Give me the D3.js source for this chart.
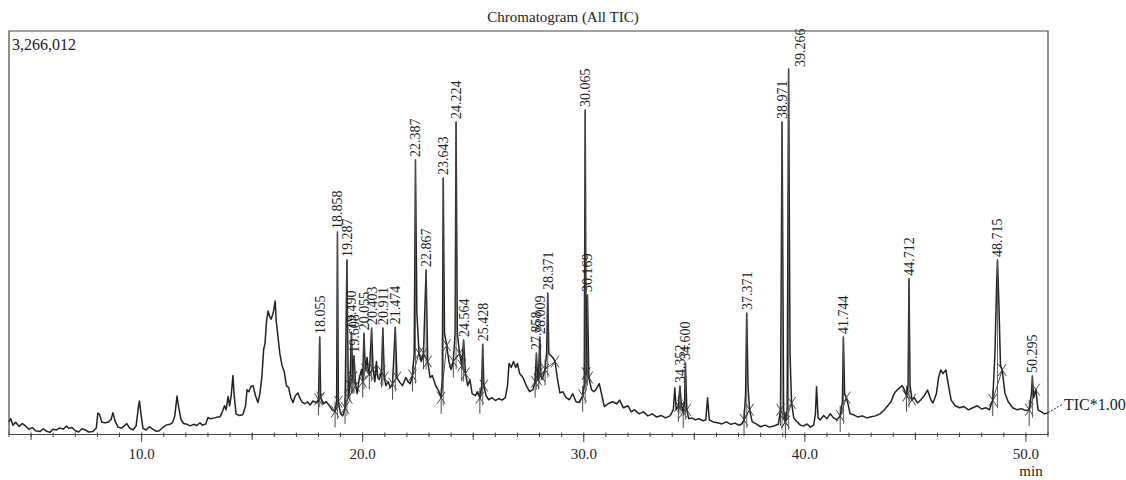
<!DOCTYPE html>
<html><head><meta charset="utf-8">
<script src="https://cdn.jsdelivr.net/npm/d3@7"></script>
<style>
html,body{margin:0;padding:0;background:#fff;}
svg text{font-family:"Liberation Serif","Times New Roman",serif;fill:#222;}
</style></head><body>
<svg id="chart" width="1126" height="480"></svg>
<script>
// ---- DATA (retention time in min, intensity in % of full scale 3,266,012) ----
const ticTrace = [
[4.00,3.0],[4.08,3.8],[4.18,2.2],[4.30,2.9],[4.45,1.9],[4.60,2.6],[4.75,2.0],[4.90,1.2],[5.05,1.6],[5.20,0.8],
[5.40,0.6],[5.55,1.3],[5.70,0.7],[5.85,0.4],[6.00,1.2],[6.15,1.0],[6.30,1.5],[6.45,1.2],[6.60,2.0],[6.70,1.4],
[6.85,1.6],[7.00,0.8],[7.15,0.5],[7.30,1.3],[7.45,1.0],[7.60,0.5],[7.80,0.6],[7.95,1.5],[8.02,5.2],[8.10,4.8],
[8.20,2.9],[8.35,2.8],[8.50,3.0],[8.62,3.6],[8.70,5.3],[8.80,3.2],[8.93,1.7],[9.10,1.5],[9.25,2.2],[9.33,2.6],
[9.45,1.5],[9.60,1.0],[9.75,2.0],[9.85,6.5],[9.90,8.2],[9.97,5.0],[10.06,1.4],[10.20,1.0],[10.35,1.8],[10.50,1.2],
[10.65,0.7],[10.80,0.8],[10.95,1.6],[11.10,2.2],[11.28,2.4],[11.40,2.8],[11.50,4.5],[11.60,9.4],[11.68,6.5],[11.78,3.6],
[11.90,2.6],[12.05,2.4],[12.20,2.0],[12.35,2.4],[12.50,2.1],[12.64,2.8],[12.75,2.2],[12.90,2.5],[13.00,4.1],[13.10,3.8],
[13.30,4.0],[13.45,4.2],[13.55,4.3],[13.65,5.5],[13.75,7.0],[13.82,6.0],[13.91,9.3],[13.98,7.0],[14.05,9.5],[14.13,14.5],
[14.18,10.0],[14.27,5.0],[14.40,4.6],[14.58,4.8],[14.70,7.0],[14.77,11.0],[14.85,10.5],[14.95,11.8],[15.04,12.0],[15.15,9.5],
[15.26,7.8],[15.35,10.0],[15.44,14.3],[15.52,21.0],[15.58,22.5],[15.65,28.0],[15.72,30.5],[15.80,29.0],[15.86,28.5],[15.95,30.0],
[16.04,33.0],[16.09,28.0],[16.17,24.0],[16.25,20.0],[16.35,17.0],[16.45,15.5],[16.55,12.0],[16.65,11.5],[16.75,9.0],[16.85,7.8],
[16.95,9.5],[17.07,10.2],[17.15,9.0],[17.25,8.0],[17.39,7.5],[17.50,8.0],[17.62,7.2],[17.75,8.2],[17.90,7.8],[18.00,8.6],
[18.055,24.1],[18.10,9.0],[18.20,7.5],[18.35,8.0],[18.50,7.0],[18.62,6.0],[18.75,5.6],[18.82,8.0],[18.858,50.1],[18.90,8.0],
[19.00,5.0],[19.10,4.5],[19.20,6.5],[19.287,43.2],[19.35,9.0],[19.42,12.0],[19.49,25.3],[19.55,14.0],[19.608,19.4],[19.68,12.0],
[19.75,10.0],[19.85,14.0],[19.95,16.0],[20.00,13.0],[20.055,25.0],[20.12,16.0],[20.20,19.0],[20.25,15.5],[20.30,15.0],[20.403,26.3],
[20.47,16.0],[20.55,13.0],[20.62,18.0],[20.68,14.0],[20.75,13.5],[20.85,15.5],[20.911,26.3],[20.98,14.0],[21.05,12.0],[21.15,13.0],
[21.25,11.5],[21.35,12.5],[21.474,26.5],[21.55,14.0],[21.65,13.0],[21.80,12.0],[21.95,14.0],[22.05,13.0],[22.15,12.5],[22.25,14.5],
[22.33,20.0],[22.387,68.0],[22.45,30.0],[22.55,20.0],[22.65,18.0],[22.75,20.0],[22.867,40.7],[22.94,18.0],[23.05,14.0],[23.15,14.5],
[23.30,12.0],[23.45,10.5],[23.55,9.0],[23.60,14.0],[23.643,63.5],[23.70,25.0],[23.80,22.0],[23.90,18.0],[24.00,16.0],[24.10,18.0],
[24.18,25.0],[24.224,77.4],[24.28,25.0],[24.38,20.0],[24.48,17.0],[24.564,23.3],[24.65,15.0],[24.75,12.0],[24.85,13.5],[24.95,10.0],
[25.10,9.5],[25.20,10.5],[25.30,9.0],[25.38,12.0],[25.428,22.3],[25.48,12.0],[25.58,9.5],[25.70,8.5],[25.85,9.0],[26.00,8.3],
[26.15,8.8],[26.30,8.4],[26.45,9.0],[26.55,12.0],[26.62,17.5],[26.72,16.5],[26.82,18.0],[26.92,16.5],[27.00,17.5],[27.10,15.0],
[27.25,14.0],[27.40,12.0],[27.55,10.5],[27.70,11.0],[27.80,13.0],[27.858,20.1],[27.92,13.5],[27.96,15.0],[28.009,24.1],[28.06,14.5],
[28.12,13.5],[28.25,16.0],[28.32,20.0],[28.371,35.0],[28.42,20.0],[28.50,19.5],[28.60,19.0],[28.70,18.0],[28.80,14.0],[28.92,10.2],
[29.05,10.5],[29.20,9.0],[29.35,8.5],[29.50,10.0],[29.65,8.0],[29.80,7.8],[29.95,9.5],[30.02,12.0],[30.065,80.4],[30.11,15.0],
[30.169,34.5],[30.23,14.0],[30.35,11.0],[30.45,10.5],[30.55,11.0],[30.70,12.5],[30.80,10.0],[30.93,6.8],[31.10,7.5],[31.30,8.0],
[31.50,7.5],[31.62,8.4],[31.80,6.5],[32.00,7.0],[32.15,5.5],[32.30,6.0],[32.50,5.0],[32.70,5.5],[32.90,4.5],[33.10,5.0],
[33.30,4.2],[33.50,4.6],[33.70,4.0],[33.90,4.5],[34.05,6.0],[34.12,11.4],[34.18,6.0],[34.28,7.0],[34.352,11.9],[34.42,7.0],
[34.50,5.5],[34.56,8.0],[34.600,17.6],[34.66,6.0],[34.75,3.8],[34.90,4.0],[35.05,3.5],[35.20,3.8],[35.40,3.3],[35.52,3.5],
[35.60,9.0],[35.68,3.5],[35.85,3.0],[36.05,2.8],[36.25,2.5],[36.45,3.0],[36.65,2.4],[36.85,2.7],[37.00,2.2],[37.15,2.5],
[37.25,3.5],[37.32,10.0],[37.371,30.0],[37.43,12.0],[37.50,6.0],[37.62,3.0],[37.80,2.5],[38.00,1.8],[38.20,2.2],[38.40,1.7],
[38.60,2.0],[38.80,2.4],[38.90,6.0],[38.971,77.4],[39.04,6.0],[39.12,3.0],[39.20,6.0],[39.266,90.6],[39.33,20.0],[39.40,7.7],
[39.50,4.0],[39.65,3.0],[39.80,2.2],[39.95,2.0],[40.10,2.5],[40.25,1.7],[40.40,2.2],[40.48,5.0],[40.53,11.7],[40.60,4.0],
[40.70,3.5],[40.85,4.6],[41.00,3.8],[41.15,5.0],[41.30,4.0],[41.45,3.5],[41.60,4.5],[41.70,8.0],[41.744,24.1],[41.80,10.0],
[41.88,9.0],[41.95,7.5],[42.05,5.0],[42.20,4.8],[42.40,4.2],[42.60,4.5],[42.80,4.0],[43.00,4.3],[43.20,4.5],[43.40,5.0],
[43.60,6.0],[43.75,7.0],[43.90,8.0],[44.00,9.5],[44.10,10.5],[44.20,11.0],[44.30,11.5],[44.40,12.0],[44.50,11.0],[44.60,9.5],
[44.67,12.0],[44.712,38.5],[44.76,12.0],[44.85,8.5],[44.95,9.0],[45.10,7.7],[45.25,8.5],[45.40,9.5],[45.55,10.9],[45.70,8.5],
[45.80,7.7],[45.95,10.0],[46.05,14.0],[46.15,15.9],[46.25,15.0],[46.38,15.9],[46.50,12.0],[46.62,8.4],[46.80,7.0],[47.00,6.5],
[47.20,6.8],[47.40,6.0],[47.60,6.5],[47.80,7.0],[48.00,6.2],[48.20,6.5],[48.35,6.0],[48.50,8.4],[48.60,20.0],[48.68,38.0],
[48.715,43.2],[48.78,32.0],[48.85,17.0],[48.93,15.9],[49.05,10.2],[49.20,8.0],[49.40,6.5],[49.60,6.0],[49.80,6.3],[50.00,5.8],
[50.15,6.0],[50.25,10.0],[50.295,14.4],[50.35,9.0],[50.45,11.0],[50.55,6.0],[50.70,5.5],[50.85,5.0],[51.00,5.3]
];
const peakTimes  = [18.055,18.858,19.287,19.490,19.608,20.055,20.403,20.911,21.474,22.387,22.867,23.643,24.224,24.564,25.428,
                    27.858,28.009,28.371,30.065,30.169,34.352,34.600,37.371,38.971,39.266,41.744,44.712,48.715,50.295];
const peakLabels = ["18.055","18.858","19.287","19.490","19.608","20.055","20.403","20.911","21.474","22.387","22.867","23.643","24.224","24.564","25.428",
                    "27.858","28.009","28.371","30.065","30.169","34.352","34.600","37.371","38.971","39.266","41.744","44.712","48.715","50.295"];
const peakStart  = [18.00,18.75,19.20,19.42,19.55,20.00,20.30,20.85,21.35,22.25,22.75,23.55,24.10,24.48,25.30,
                    27.80,27.96,28.25,29.95,30.11,34.28,34.50,37.25,38.90,39.12,41.60,44.60,48.50,50.15];
const peakEnd    = [18.10,18.90,19.35,19.55,19.68,20.12,20.47,20.98,21.55,22.55,22.94,23.80,24.38,24.65,25.48,
                    27.92,28.06,28.70,30.11,30.23,34.42,34.66,37.50,39.12,39.40,41.88,44.85,48.93,50.45];
const minorTicks = d3.range(4, 52, 1);
const midTicks   = [5, 15, 25, 35, 45];
const majorTicks = [10, 20, 30, 40, 50];
const majorTickLabels = ["10.0", "20.0", "30.0", "40.0", "50.0"];
const titleText = "Chromatogram (All TIC)";
const fullScaleLabel = "3,266,012";
const traceLabel = "TIC*1.00";
const xUnit = "min";

// ---- LAYOUT ----
const svg = d3.select("#chart");
const L = 9, R = 1048, T = 31, B = 434.5;
const x = d3.scaleLinear().domain([4.0, 51.0]).range([L, R]);
const y = d3.scaleLinear().domain([0, 100]).range([434, T]);
const ink = "#222";

svg.append("text").attr("x", 563).attr("y", 22).attr("text-anchor", "middle")
  .style("font-size", "15px").text(titleText);

// frame
svg.append("path").attr("d", `M${L},${B}V${T}H${R}V${B}`)
  .attr("fill", "none").attr("stroke", "#444").attr("stroke-width", 1.2);

svg.append("text").attr("x", 12).attr("y", 50).style("font-size", "16px").text(fullScaleLabel);

// x axis
const axisG = svg.append("g").attr("transform", `translate(0,${B})`);
axisG.append("line").attr("x1", L).attr("x2", R).attr("stroke", "#444").attr("stroke-width", 1.2);
axisG.selectAll("line.minor").data(minorTicks).join("line").attr("class", "minor")
  .attr("x1", d => x(d)).attr("x2", d => x(d)).attr("y1", -2).attr("y2", 2.5)
  .attr("stroke", "#444");
axisG.selectAll("line.mid").data(midTicks).join("line").attr("class", "mid")
  .attr("x1", d => x(d)).attr("x2", d => x(d)).attr("y1", -1).attr("y2", 5.5)
  .attr("stroke", "#444");
axisG.selectAll("line.major").data(majorTicks).join("line").attr("class", "major")
  .attr("x1", d => x(d)).attr("x2", d => x(d)).attr("y1", 0).attr("y2", 7.5)
  .attr("stroke", "#444");
axisG.selectAll("text.tl").data(majorTicks).join("text").attr("class", "tl")
  .attr("x", d => x(d)).attr("y", 24.5).attr("text-anchor", "middle")
  .style("font-size", "15px").text((d, i) => majorTickLabels[i]);
svg.append("text").attr("x", 1031).attr("y", 476).attr("text-anchor", "middle")
  .style("font-size", "15px").text(xUnit);

// trace
const line = d3.line().x(d => x(d[0])).y(d => y(d[1]));
svg.append("path").datum(ticTrace).attr("d", line)
  .attr("fill", "none").attr("stroke", ink).attr("stroke-width", 1.5).attr("stroke-linejoin", "round");

// interpolation helper for peak boundaries
const bis = d3.bisector(d => d[0]).left;
function valAt(t) {
  const i = bis(ticTrace, t);
  if (i <= 0) return ticTrace[0][1];
  if (i >= ticTrace.length) return ticTrace[ticTrace.length - 1][1];
  const a = ticTrace[i - 1], b = ticTrace[i];
  return a[1] + (b[1] - a[1]) * (t - a[0]) / (b[0] - a[0]);
}

// integration marks
const marks = svg.append("g").attr("stroke", "#333").attr("stroke-width", 0.9).attr("fill", "none");
peakTimes.forEach((pt, i) => {
  const xs = x(peakStart[i]), ys = y(valAt(peakStart[i]));
  const xe = x(peakEnd[i]), ye = y(valAt(peakEnd[i]));
  marks.append("line").attr("x1", xs).attr("y1", ys).attr("x2", xe).attr("y2", ye);
  marks.append("line").attr("x1", xs).attr("x2", xs).attr("y1", ys - 10).attr("y2", ys + 16);
  [[xs, ys], [xe, ye]].forEach(([cx, cy]) => {
    marks.append("path").attr("d", `M${cx-4},${cy-6}L${cx+4},${cy+6}M${cx+4},${cy-6}L${cx-4},${cy+6}`);
  });
  marks.append("line").attr("x1", x(pt)).attr("x2", x(pt))
    .attr("y1", y(valAt(pt))).attr("y2", Math.max(ys, ye) + 8).attr("stroke", "#555");
});

// peak labels
const lblSize = 14;
const labelsG = svg.append("g");
peakTimes.forEach((pt, i) => {
  const px = x(pt), py = y(valAt(pt));
  const len = peakLabels[i].length * lblSize * 0.48;
  let lx = px, ly = py - 3;
  if (ly - len < T + 1) { lx = px + 11; ly = py - 2; }
  labelsG.append("text")
    .attr("transform", `translate(${lx},${ly}) rotate(-90)`)
    .attr("dy", "0.35em").style("font-size", lblSize + "px").text(peakLabels[i]);
});

// trace label
const last = ticTrace[ticTrace.length - 1];
svg.append("line").attr("x1", x(last[0])).attr("y1", y(last[1])).attr("x2", 1063).attr("y2", 404)
  .attr("stroke", "#333").attr("stroke-dasharray", "2,1.5");
svg.append("text").attr("x", 1064).attr("y", 410).style("font-size", "16px").text(traceLabel);
</script>
</body></html>
